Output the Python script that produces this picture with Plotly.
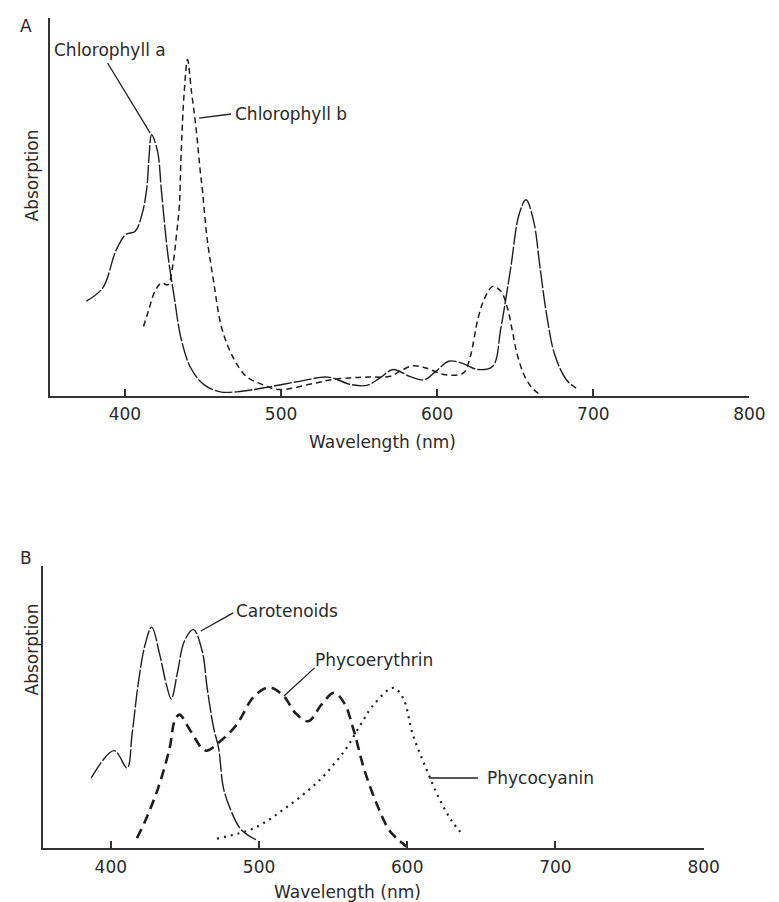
import plotly.graph_objects as go

# ---------------- Data (panel A) ----------------
chl_a_wl = [375.3, 385.8, 394.1, 400.4, 406.6, 410.9, 414.0, 415.4, 417.1, 420.9, 423.4, 427.5,
            431.7, 435.9, 442.2, 450.6, 461.0, 471.5, 488.2, 513.3, 530.0, 545.0, 555.0, 563.4,
            571.8, 582.3, 591.7, 599.1, 607.4, 615.7, 626.2, 635.6, 640.8, 647.1, 652.4, 656.9,
            661.8, 665.9, 670.1, 675.3, 682.7, 689.0]
chl_a_abs = [0.251, 0.286, 0.383, 0.427, 0.436, 0.480, 0.550, 0.630, 0.691, 0.647, 0.542, 0.374,
             0.259, 0.153, 0.074, 0.030, 0.011, 0.011, 0.021, 0.040, 0.050, 0.030, 0.028, 0.048,
             0.070, 0.052, 0.043, 0.065, 0.092, 0.087, 0.070, 0.079, 0.180, 0.339, 0.480, 0.519,
             0.462, 0.339, 0.215, 0.109, 0.043, 0.021]

chl_b_wl = [411.9, 415.0, 419.2, 423.4, 427.5, 430.7, 432.8, 434.9, 435.9, 438.0, 440.1, 442.6,
            445.3, 448.5, 449.5, 452.6, 456.8, 462.0, 469.4, 477.7, 488.2, 498.7, 521.6, 532.1,
            545.0, 555.0, 569.7, 576.0, 584.4, 592.8, 605.3, 616.8, 621.0, 626.2, 630.4, 635.6,
            640.8, 645.0, 648.2, 651.3, 656.5, 661.8, 665.9]
chl_b_abs = [0.184, 0.224, 0.277, 0.299, 0.294, 0.347, 0.418, 0.506, 0.630, 0.806, 0.890, 0.806,
             0.718, 0.585, 0.550, 0.418, 0.303, 0.180, 0.101, 0.052, 0.030, 0.017, 0.034, 0.043,
             0.048, 0.050, 0.052, 0.065, 0.080, 0.074, 0.056, 0.061, 0.101, 0.206, 0.259, 0.290,
             0.277, 0.233, 0.171, 0.109, 0.048, 0.017, 0.004]

# ---------------- Data (panel B) ----------------
car_wl = [386.8, 402.2, 411.0, 414.3, 418.7, 423.1, 427.6, 433.0, 437.5, 440.8, 445.1, 449.6,
          455.7, 461.7, 465.0, 469.4, 472.7, 476.0, 480.4, 487.0, 493.7, 498.0]
car_abs = [0.255, 0.354, 0.291, 0.412, 0.606, 0.739, 0.803, 0.703, 0.594, 0.542, 0.642, 0.752,
           0.794, 0.715, 0.582, 0.436, 0.364, 0.218, 0.145, 0.073, 0.042, 0.030]

pe_wl = [417.6, 423.1, 431.9, 439.7, 443.0, 446.3, 454.0, 463.9, 473.8, 484.8, 496.5, 506.9,
         516.8, 524.5, 533.3, 542.1, 550.5, 557.5, 564.1, 570.7, 579.6, 588.4, 599.4]
pe_abs = [0.036, 0.097, 0.218, 0.364, 0.461, 0.485, 0.424, 0.354, 0.388, 0.448, 0.550, 0.584,
          0.551, 0.491, 0.461, 0.521, 0.564, 0.527, 0.424, 0.291, 0.158, 0.061, 0.006]

pc_wl = [471.6, 496.5, 517.8, 539.9, 557.5, 568.5, 577.3, 590.6, 597.2, 603.8, 612.6, 621.4,
         630.2, 637.9]
pc_abs = [0.034, 0.072, 0.145, 0.242, 0.352, 0.448, 0.521, 0.582, 0.545, 0.412, 0.291, 0.182,
          0.097, 0.046]

tick_vals = [400, 500, 600, 700, 800]
tick_text = ["400", "500", "600", "700", "800"]

W, H = 779, 902
FONT = "DejaVu Sans, Verdana, sans-serif"
INK = "#1e1e1e"
TXT = "#2a2a2a"
B_TOP = 558  # pixel row of the top of panel B's y axis


def px_x(p):
    return p / W


def px_y(p):
    return 1 - p / H


fig = go.Figure()

fig.add_trace(go.Scatter(x=chl_a_wl, y=chl_a_abs, mode="lines", line_shape="spline",
                         line=dict(color=INK, width=1.4, dash="18px,2px"),
                         xaxis="x", yaxis="y", showlegend=False))
fig.add_trace(go.Scatter(x=chl_b_wl, y=chl_b_abs, mode="lines", line_shape="spline",
                         line=dict(color=INK, width=1.5, dash="6px,4px"),
                         xaxis="x", yaxis="y", showlegend=False))

fig.add_trace(go.Scatter(x=car_wl, y=car_abs, mode="lines", line_shape="spline",
                         line=dict(color=INK, width=1.4, dash="18px,2px"),
                         xaxis="x2", yaxis="y2", showlegend=False))
fig.add_trace(go.Scatter(x=pe_wl, y=pe_abs, mode="lines", line_shape="spline",
                         line=dict(color=INK, width=2.6, dash="10px,6px"),
                         xaxis="x2", yaxis="y2", showlegend=False))
fig.add_trace(go.Scatter(x=pc_wl, y=pc_abs, mode="lines", line_shape="spline",
                         line=dict(color=INK, width=2.2, dash="2px,5px"),
                         xaxis="x2", yaxis="y2", showlegend=False))

axis_common = dict(showgrid=False, zeroline=False, showline=True, linecolor="#333333",
                   linewidth=1.6)

# panel B y-range scaled so that 1 unit = 275 px like the data readout
b_ymax = (840 - B_TOP) / 275.0

fig.update_layout(
    width=W, height=H,
    margin=dict(l=0, r=0, t=0, b=0),
    paper_bgcolor="white", plot_bgcolor="white",
    font=dict(family=FONT, size=17, color=TXT),
    xaxis=dict(domain=[px_x(42.7), px_x(757)], range=[351.9, 800], anchor="y",
               tickmode="array", tickvals=tick_vals, ticktext=tick_text,
               ticks="inside", ticklen=7, tickwidth=1.5, tickcolor="#333333",
               ticklabelstandoff=2, tickfont=dict(size=17, color=TXT), **axis_common),
    yaxis=dict(domain=[px_y(388), px_y(10)], range=[0, 1], anchor="x",
               showticklabels=False, ticks="", **axis_common),
    xaxis2=dict(domain=[px_x(36), px_x(710.2)], range=[354.4, 800], anchor="y2",
                tickmode="array", tickvals=tick_vals, ticktext=tick_text,
                ticks="inside", ticklen=7, tickwidth=1.5, tickcolor="#333333",
                ticklabelstandoff=3, tickfont=dict(size=17, color=TXT), **axis_common),
    yaxis2=dict(domain=[px_y(840), px_y(B_TOP)], range=[0, b_ymax], anchor="x2",
                showticklabels=False, ticks="", **axis_common),
)


def paper_text(text, x, y, angle=0):
    return dict(text=text, x=px_x(x), y=px_y(y), xref="paper", yref="paper",
                xanchor="center", yanchor="middle", showarrow=False,
                textangle=angle, font=dict(size=17))


def data_text(text, x, y, xr, yr):
    return dict(text=text, x=x, y=y, xref=xr, yref=yr, xanchor="left",
                yanchor="middle", showarrow=False, font=dict(size=17))


ann = [
    paper_text("A", 18, 18),
    paper_text("B", 18, 550),
    paper_text("Absorption", 25, 167, -90),
    paper_text("Absorption", 25, 641, -90),
    paper_text("Wavelength (nm)", 382, 434),
    paper_text("Wavelength (nm)", 347, 884),
    data_text("Chlorophyll a", 353.3, 0.915, "x", "y"),
    data_text("Chlorophyll b", 469.4, 0.746, "x", "y"),
    data_text("Carotenoids", 483.3, 0.862, "x2", "y2"),
    data_text("Phycoerythrin", 536.2, 0.685, "x2", "y2"),
    data_text("Phycocyanin", 652.3, 0.2545, "x2", "y2"),
]
fig.update_layout(annotations=ann)

# leader lines
leaders = [
    ("x", "y", 388.9, 0.881, 416.1, 0.696),
    ("x", "y", 447.4, 0.735, 468.0, 0.746),
    ("x2", "y2", 460.8, 0.789, 482.6, 0.855),
    ("x2", "y2", 516.8, 0.553, 537.5, 0.655),
    ("x2", "y2", 614.8, 0.2545, 647.8, 0.2545),
]
for xr, yr, x0, y0, x1, y1 in leaders:
    fig.add_shape(type="line", xref=xr, yref=yr, x0=x0, y0=y0, x1=x1, y1=y1,
                  line=dict(color=INK, width=1.3))

fig.write_html("out.html")
